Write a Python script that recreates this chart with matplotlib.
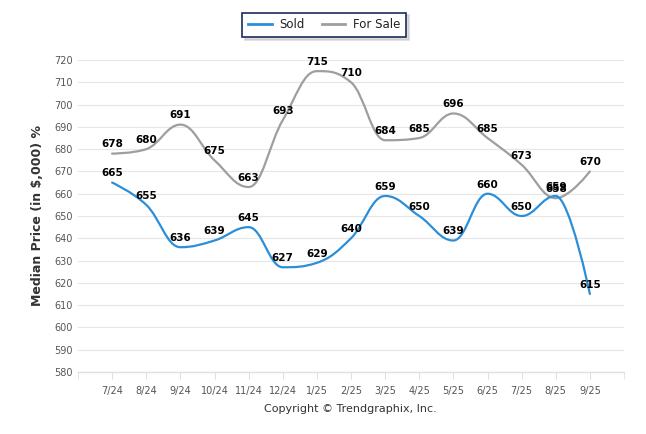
import matplotlib
matplotlib.use("Agg")
import matplotlib.pyplot as plt
from matplotlib.path import Path
from matplotlib.patches import PathPatch
from matplotlib.lines import Line2D

# -------------------------------------------------------------------
# Data
# -------------------------------------------------------------------
months = ["7/24", "8/24", "9/24", "10/24", "11/24", "12/24", "1/25", "2/25",
          "3/25", "4/25", "5/25", "6/25", "7/25", "8/25", "9/25"]
sold = [665, 655, 636, 639, 645, 627, 629, 640, 659, 650, 639, 660, 650, 659, 615]
for_sale = [678, 680, 691, 675, 663, 693, 715, 710, 684, 685, 696, 685, 673, 658, 670]

SOLD_COLOR = "#2a8fd8"
SALE_COLOR = "#9e9e9e"


def spline_path(xs, ys, smoothing=1.5):
    # smooth line through every point (cubic bezier segments)
    denom = smoothing + 1
    n = len(xs)
    right = [None] * n
    verts = [(xs[0], ys[0])]
    codes = [Path.MOVETO]
    for i in range(1, n):
        x, y = xs[i], ys[i]
        lx, ly = x, y
        if i < n - 1:
            px, py = xs[i - 1], ys[i - 1]
            nx, ny = xs[i + 1], ys[i + 1]
            lx = (smoothing * x + px) / denom
            ly = (smoothing * y + py) / denom
            rx = (smoothing * x + nx) / denom
            ry = (smoothing * y + ny) / denom
            corr = ((ry - ly) * (rx - x)) / (rx - lx) + y - ry
            ly += corr
            ry += corr
            if ly > py and ly > y:
                ly = max(py, y)
                ry = 2 * y - ly
            elif ly < py and ly < y:
                ly = min(py, y)
                ry = 2 * y - ly
            if ry > ny and ry > y:
                ry = max(ny, y)
                ly = 2 * y - ry
            elif ry < ny and ry < y:
                ry = min(ny, y)
                ly = 2 * y - ry
            right[i] = (rx, ry)
        c1 = right[i - 1] if right[i - 1] is not None else (xs[i - 1], ys[i - 1])
        verts += [c1, (lx, ly), (x, y)]
        codes += [Path.CURVE4] * 3
    return Path(verts, codes)


# -------------------------------------------------------------------
# Plot
# -------------------------------------------------------------------
fig = plt.figure(figsize=(6.46, 4.34), dpi=100)
ax = fig.add_axes([78 / 646, 62 / 434, 546 / 646, 312 / 434])

xs = list(range(len(months)))
for vals, col in [(for_sale, SALE_COLOR), (sold, SOLD_COLOR)]:
    patch = PathPatch(spline_path(xs, vals), facecolor="none", edgecolor=col,
                      linewidth=1.6, zorder=3, capstyle="round", joinstyle="round")
    ax.add_patch(patch)
    for x, v in zip(xs, vals):
        ax.annotate(str(v), (x, v), xytext=(0, 3), textcoords="offset points",
                    ha="center", va="bottom", fontsize=7.5, fontweight="bold",
                    color="black", zorder=4)

ax.set_xlim(-1, 15)
ax.set_ylim(580, 720)
ax.set_yticks(range(580, 721, 10))
ax.set_xticks(xs)
ax.set_xticklabels(months)
ax.set_xticks(range(-1, 16), minor=True)

ax.grid(axis="y", color="#e6e6e6", linewidth=0.8)
ax.set_axisbelow(True)
for s in ["top", "right", "left"]:
    ax.spines[s].set_visible(False)
ax.spines["bottom"].set_color("#e0e0e0")
ax.spines["bottom"].set_linewidth(1.0)

ax.tick_params(axis="y", length=0, labelsize=7, labelcolor="#555555", pad=4)
ax.tick_params(axis="x", which="both", length=5, color="#e0e0e0",
               labelsize=7, labelcolor="#555555", pad=5)

ax.set_ylabel("Median Price (in $,000) %", fontsize=9, fontweight="bold",
              color="#333333", labelpad=7)

# Legend box at top
handles = [Line2D([], [], color=SOLD_COLOR, linewidth=2),
           Line2D([], [], color=SALE_COLOR, linewidth=2)]
leg = fig.legend(handles, ["Sold", "For Sale"], loc="center",
                 bbox_to_anchor=(324 / 646, 1 - 25 / 434), ncol=2, frameon=True,
                 fancybox=False, shadow={"ox": 2, "oy": -2, "color": "#bbbbbb"},
                 fontsize=8.5, handlelength=2.0,
                 columnspacing=1.5, borderpad=0.5, handletextpad=0.6)
leg.get_frame().set_edgecolor("#1c2b5a")
leg.get_frame().set_linewidth(1.2)
for t in leg.get_texts():
    t.set_color("#222222")

fig.text(350 / 646, 1 - 409 / 434, "Copyright \u00a9 Trendgraphix, Inc.",
         ha="center", va="center", fontsize=8, color="#333333")

plt.savefig("out.png", dpi=100)
